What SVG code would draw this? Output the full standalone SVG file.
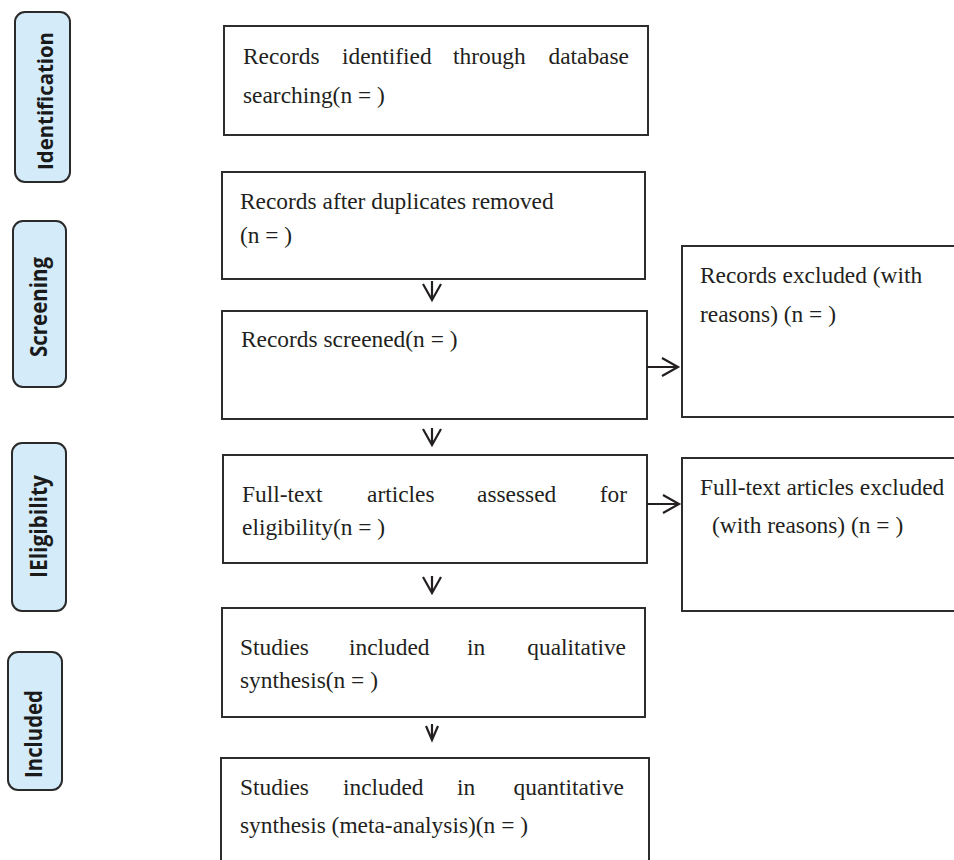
<svg xmlns="http://www.w3.org/2000/svg" width="954" height="860" viewBox="0 0 954 860">
<style>
.box{fill:#fff;stroke:#2d2d2d;stroke-width:2}
.pill{fill:#d4ebfa;stroke:#2a2a2a;stroke-width:2}
.t{font-family:"Liberation Serif","Times New Roman",serif;font-size:23.4px;fill:#231f20}
.s{font-family:"Open Sans","Liberation Sans",sans-serif;font-weight:bold;fill:#1a1a1a}
.c{fill:none;stroke:#231f20;stroke-width:2.2}
</style>
<rect width="954" height="860" fill="#fff"/>
<g id="stage-identification">
<rect class="pill" x="15" y="12" width="55" height="170" rx="10"/>
<text class="s" font-size="22" transform="translate(53,170) rotate(-90)" textLength="138" lengthAdjust="spacingAndGlyphs">Identification</text>
</g>
<g id="stage-screening">
<rect class="pill" x="13" y="221" width="53" height="166" rx="10"/>
<text class="s" font-size="23" transform="translate(47,357) rotate(-90)" textLength="100" lengthAdjust="spacingAndGlyphs">Screening</text>
</g>
<g id="stage-eligibility">
<rect class="pill" x="12" y="443" width="54" height="168" rx="10"/>
<text class="s" font-size="23" transform="translate(47,578) rotate(-90)" textLength="103" lengthAdjust="spacingAndGlyphs">IEligibility</text>
</g>
<g id="stage-included">
<rect class="pill" x="8" y="652" width="54" height="138" rx="10"/>
<text class="s" font-size="23" transform="translate(42,778) rotate(-90)" textLength="88" lengthAdjust="spacingAndGlyphs">Included</text>
</g>
<g id="n-identified">
<rect class="box" x="224" y="26" width="424" height="109"/>
<text class="t" x="243" y="64">Records</text>
<text class="t" x="342" y="64">identified</text>
<text class="t" x="453" y="64">through</text>
<text class="t" x="629" y="64" text-anchor="end">database</text>
<text class="t" x="243" y="103">searching(n = )</text>
</g>
<g id="n-dedup">
<rect class="box" x="222" y="172" width="423" height="107"/>
<text class="t" x="240" y="209">Records after duplicates removed</text>
<text class="t" x="240" y="243">(n = )</text>
</g>
<g id="n-screened">
<rect class="box" x="222" y="311" width="425" height="108"/>
<text class="t" x="241" y="347">Records screened(n = )</text>
</g>
<g id="n-excluded">
<rect class="box" x="682" y="246" width="280" height="171"/>
<text class="t" x="700" y="283">Records excluded (with</text>
<text class="t" x="700" y="322">reasons) (n = )</text>
</g>
<g id="n-fulltext">
<rect class="box" x="223" y="455" width="424" height="108"/>
<text class="t" x="242" y="502">Full-text</text>
<text class="t" x="367" y="502">articles</text>
<text class="t" x="477" y="502">assessed</text>
<text class="t" x="627" y="502" text-anchor="end">for</text>
<text class="t" x="242" y="535">eligibility(n = )</text>
</g>
<g id="n-ft-excluded">
<rect class="box" x="682" y="458" width="280" height="153"/>
<text class="t" x="700" y="495">Full-text articles excluded</text>
<text class="t" x="712" y="533">(with reasons) (n = )</text>
</g>
<g id="n-qualitative">
<rect class="box" x="222" y="608" width="423" height="109"/>
<text class="t" x="240" y="655">Studies</text>
<text class="t" x="349" y="655">included</text>
<text class="t" x="467" y="655">in</text>
<text class="t" x="626" y="655" text-anchor="end">qualitative</text>
<text class="t" x="240" y="688">synthesis(n = )</text>
</g>
<g id="n-quantitative">
<rect class="box" x="221" y="758" width="428" height="120"/>
<text class="t" x="240" y="795">Studies</text>
<text class="t" x="343" y="795">included</text>
<text class="t" x="457" y="795">in</text>
<text class="t" x="624" y="795" text-anchor="end">quantitative</text>
<text class="t" x="240" y="833">synthesis (meta-analysis)(n = )</text>
</g>
<g id="connectors">
<path class="c" d="M432 281V300M423 284L432 300L441 284"/>
<path class="c" d="M432 428V445M423 429L432 445L441 429"/>
<path class="c" d="M432 576V593M423 577L432 593L441 577"/>
<path class="c" d="M432 724V740M426 726L432 740L438 726"/>
<path class="c" d="M647 367H678M662 358L678 367L662 376"/>
<path class="c" d="M647 504H679M663 495L679 504L663 513"/>
</g>
</svg>
